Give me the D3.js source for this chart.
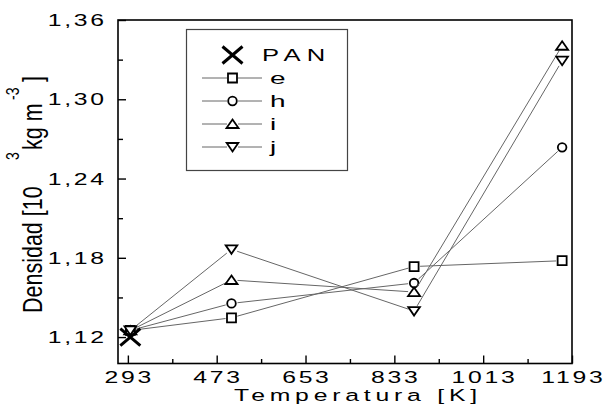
<!DOCTYPE html>
<html>
<head>
<meta charset="utf-8">
<script src="https://cdn.jsdelivr.net/npm/d3@7/dist/d3.min.js"></script>
<style>
  html, body { margin: 0; padding: 0; background: #fff; }
  svg { display: block; }
  text { font-family: "Liberation Sans", Arial, sans-serif; fill: #000; }
</style>
</head>
<body>
<svg id="chart" width="608" height="407"></svg>
<script>
// Density vs. treatment temperature
const temps = [298, 503, 873, 1173];
const seriesNames = ["e", "h", "i", "j"];
const eVals = [1.125, 1.1346, 1.1734, 1.1778];
const hVals = [1.125, 1.1455, 1.1609, 1.2636];
const iVals = [1.125, 1.1632, 1.1541, 1.3405];
const jVals = [1.125, 1.1864, 1.1397, 1.3292];
const panTemp = [298];
const panVal = [1.12];
const xTicks = [293, 473, 653, 833, 1013, 1193];
const xMinor = [383, 563, 743, 923, 1103];
const yTicks = [1.12, 1.18, 1.24, 1.30, 1.36];
const yMinor = [1.15, 1.21, 1.27, 1.33];

const seriesVals = [eVals, hVals, iVals, jVals];
const seriesShapes = ["square", "circle", "up", "down"];

const svg = d3.select("#chart");
const plotL = 118, plotR = 572, plotT = 20, plotB = 363.5;

const x = d3.scaleLinear().domain([273, 1193]).range([plotL, plotR]);
const y = d3.scaleLinear().domain([1.10, 1.36]).range([plotB, plotT]);

// Marker shapes
function markerPath(shape) {
  switch (shape) {
    case "square": return "M-4.5,-4.5H4.5V4.5H-4.5Z";
    case "circle": return d3.arc()({innerRadius: 0, outerRadius: 4.3, startAngle: 0, endAngle: 2 * Math.PI});
    case "up": return "M0,-4.5L6,4L-6,4Z";
    case "down": return "M0,4.5L5.8,-4L-5.8,-4Z";
    case "x": return "M-10,-8.5L10,8.5M-10,8.5L10,-8.5";
  }
}

// Axes: inward ticks, left and bottom only
function styleTicks(g) {
  g.select(".domain").remove();
  g.selectAll("line").attr("stroke", "#000").attr("stroke-width", 1.4);
}
svg.append("g")
  .attr("transform", `translate(0,${plotB})`)
  .call(d3.axisBottom(x).tickValues(xTicks).tickSize(-8).tickFormat(""))
  .call(styleTicks);
svg.append("g")
  .attr("transform", `translate(0,${plotB})`)
  .call(d3.axisBottom(x).tickValues(xMinor).tickSize(-4.5).tickFormat(""))
  .call(styleTicks);
svg.append("g")
  .attr("transform", `translate(${plotL},0)`)
  .call(d3.axisLeft(y).tickValues(yTicks).tickSize(-8).tickFormat(""))
  .call(styleTicks);
svg.append("g")
  .attr("transform", `translate(${plotL},0)`)
  .call(d3.axisLeft(y).tickValues(yMinor).tickSize(-5).tickFormat(""))
  .call(styleTicks);

// Frame
svg.append("rect")
  .attr("x", plotL).attr("y", plotT)
  .attr("width", plotR - plotL).attr("height", plotB - plotT)
  .attr("fill", "none").attr("stroke", "#000").attr("stroke-width", 1.6);

// Tick labels (wide, spaced lettering)
const fmtY = v => d3.format(".2f")(v).replace(".", ",");
const tickSX = 1.5, tickLS = 1.8;
svg.append("g").selectAll("text").data(xTicks).join("text")
  .attr("transform", d => `translate(${x(d) + tickLS * tickSX / 2},382.5) scale(${tickSX},1)`)
  .attr("text-anchor", "middle")
  .attr("font-size", 16.5)
  .attr("letter-spacing", tickLS)
  .text(d => d);
svg.append("g").selectAll("text").data(yTicks).join("text")
  .attr("transform", d => `translate(${104 + tickLS * tickSX},${y(d) + 6}) scale(${tickSX},1)`)
  .attr("text-anchor", "end")
  .attr("font-size", 16.5)
  .attr("letter-spacing", tickLS)
  .text(fmtY);

// Axis titles
svg.append("text")
  .attr("transform", "translate(234,401) scale(1.5,1)")
  .attr("font-size", 16.5)
  .attr("letter-spacing", 3.2)
  .text("Temperatura [K]");

const yt = svg.append("g").attr("transform", "translate(42,313) rotate(-90) scale(1,1.3)");
yt.append("text").attr("x", 0).attr("y", 0).attr("font-size", 21.5).text("Densidad [10");
yt.append("text").attr("x", 153).attr("y", -17.5).attr("font-size", 14).text("3");
yt.append("text").attr("x", 163).attr("y", 0).attr("font-size", 21.5).text("kg m");
yt.append("text").attr("x", 213).attr("y", -17.5).attr("font-size", 14).text("-3");
yt.append("text").attr("x", 231).attr("y", 0).attr("font-size", 21.5).text("]");

// Series lines with small gaps at each marker
const gap = 6;
const plot = svg.append("g");
seriesVals.forEach((vals, si) => {
  const pts = temps.map((t, k) => [x(t), y(vals[k])]);
  const segs = d3.pairs(pts).map(([a, b]) => {
    const dx = b[0] - a[0], dy = b[1] - a[1];
    const len = Math.hypot(dx, dy);
    const ux = dx / len, uy = dy / len;
    return [[a[0] + ux * gap, a[1] + uy * gap], [b[0] - ux * gap, b[1] - uy * gap]];
  });
  plot.append("g").selectAll("line").data(segs).join("line")
    .attr("x1", d => d[0][0]).attr("y1", d => d[0][1])
    .attr("x2", d => d[1][0]).attr("y2", d => d[1][1])
    .attr("stroke", "#666").attr("stroke-width", 1);
  plot.append("g").selectAll("path").data(pts).join("path")
    .attr("transform", d => `translate(${d[0]},${d[1]})`)
    .attr("d", markerPath(seriesShapes[si]))
    .attr("fill", "#fff").attr("stroke", "#000").attr("stroke-width", 1.8);
});

// PAN reference point
svg.append("g").selectAll("path").data(panTemp).join("path")
  .attr("transform", (d, k) => `translate(${x(d)},${y(panVal[k])})`)
  .attr("d", markerPath("x"))
  .attr("fill", "none").attr("stroke", "#000").attr("stroke-width", 3);

// Legend
const lg = svg.append("g");
lg.append("rect").attr("x", 186.5).attr("y", 29.5).attr("width", 161).attr("height", 141)
  .attr("fill", "#fff").attr("stroke", "#444").attr("stroke-width", 1.2);
lg.append("path").attr("transform", "translate(232.5,55)").attr("d", markerPath("x"))
  .attr("fill", "none").attr("stroke", "#000").attr("stroke-width", 3);
lg.append("text").attr("transform", "translate(262,60.5) scale(1.6,1)")
  .attr("font-size", 16).attr("letter-spacing", 3.9).text("PAN");
const rowY = [78, 101, 124, 147];
seriesNames.forEach((name, si) => {
  const ry = rowY[si];
  lg.append("line").attr("x1", 202).attr("x2", 227).attr("y1", ry).attr("y2", ry)
    .attr("stroke", "#666").attr("stroke-width", 1);
  lg.append("line").attr("x1", 238).attr("x2", 262).attr("y1", ry).attr("y2", ry)
    .attr("stroke", "#666").attr("stroke-width", 1);
  lg.append("path").attr("transform", `translate(232.5,${ry})`)
    .attr("d", markerPath(seriesShapes[si]))
    .attr("fill", "#fff").attr("stroke", "#000").attr("stroke-width", 1.8);
  lg.append("text").attr("transform", `translate(270,${ry + 6}) scale(1.75,1)`)
    .attr("font-size", 16).text(name);
});
</script>
</body>
</html>
